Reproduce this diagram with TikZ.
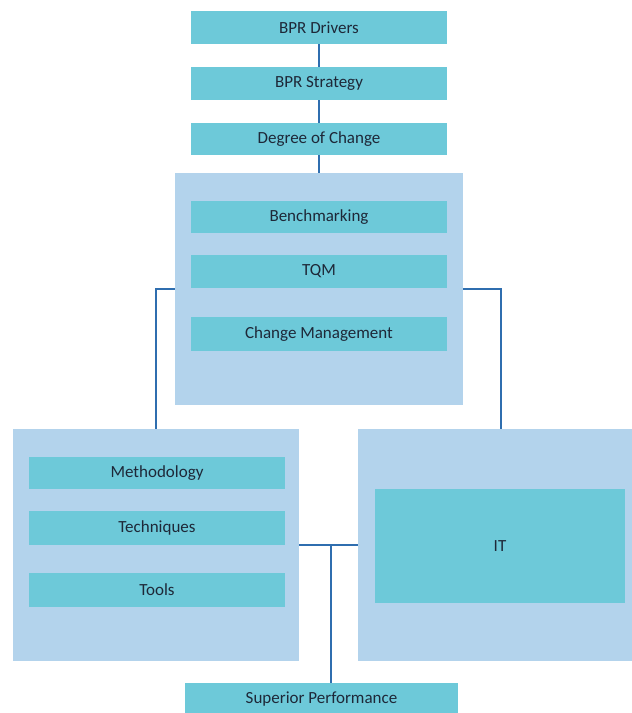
\documentclass[tikz,border=0pt]{standalone}
\usepackage{fontspec}
\setmainfont{Carlito}
\usetikzlibrary{calc}
\definecolor{panel}{HTML}{B3D3EC}
\definecolor{bar}{HTML}{6DC9D9}
\definecolor{link}{HTML}{2F6EAF}
\definecolor{ink}{HTML}{1E2838}
\begin{document}
\begin{tikzpicture}[x=1pt,y=-1pt,
  panelbox/.style={fill=panel,draw=none,inner sep=0pt},
  barbox/.style={fill=bar,draw=none,inner sep=0pt,text=ink,
    font=\fontsize{17}{20}\selectfont},
  linkline/.style={draw=link,line width=2.4pt}]
\useasboundingbox (0,0) rectangle (632,713);
\begin{scope}
\clip (0,0) rectangle (632,713);
% top chain
\node[barbox,minimum width=256pt,minimum height=33pt] (drivers) at (319,27.5) {BPR Drivers};
\node[barbox,minimum width=256pt,minimum height=33pt] (strategy) at (319,83.5) {BPR Strategy};
\node[barbox,minimum width=256pt,minimum height=32pt] (degree) at (319,139) {Degree of Change};
% central panel
\node[panelbox,minimum width=288pt,minimum height=232pt] (core) at (319,289) {};
\node[barbox,minimum width=256pt,minimum height=32pt] (bench) at (319,217) {Benchmarking};
\node[barbox,minimum width=256pt,minimum height=33pt] (tqm) at (319,271.5) {TQM};
\node[barbox,minimum width=256pt,minimum height=34pt] (change) at (319,334) {Change Management};
% left panel
\node[panelbox,minimum width=286pt,minimum height=232pt] (left) at (156,545) {};
\node[barbox,minimum width=256pt,minimum height=32pt] (meth) at (157,473) {Methodology};
\node[barbox,minimum width=256pt,minimum height=34pt] (tech) at (157,528) {Techniques};
\node[barbox,minimum width=256pt,minimum height=34pt] (tools) at (157,590) {Tools};
% right panel
\node[panelbox,minimum width=286pt,minimum height=232pt] (right) at (501,545) {};
\node[barbox,minimum width=250pt,minimum height=114pt] (it) at (500,546) {IT};
% result
\node[barbox,minimum width=273pt,minimum height=33pt] (perf) at (321.5,699.5) {Superior Performance};
% connectors
\draw[linkline] (drivers.south) -- (strategy.north);
\draw[linkline] (strategy.south) -- (degree.north);
\draw[linkline] (degree.south) -- (core.north);
\draw[linkline] (core.west) -| (left.north);
\draw[linkline] (core.east) -| (right.north);
\draw[linkline] (left.east) -- (right.west);
\coordinate (join) at ($(left.east)!0.54!(right.west)$);
\draw[linkline] (join) -- (join |- perf.north);
\end{scope}
\end{tikzpicture}
\end{document}
